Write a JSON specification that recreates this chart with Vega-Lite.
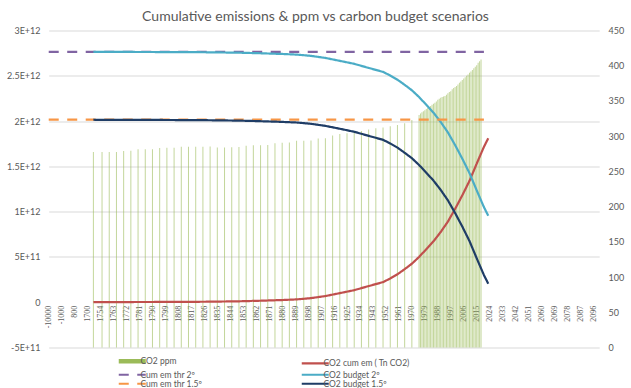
{
  "$schema": "https://vega.github.io/schema/vega-lite/v6.json",
  "width": 552,
  "height": 317,
  "autosize": "none",
  "padding": {"left": 48, "top": 30.5, "right": 31, "bottom": 40.5},
  "background": "white",
  "title": {"text": "Cumulative emissions & ppm vs carbon budget scenarios", "frame": "group", "anchor": "middle", "dx": -8.5, "dy": 18, "offset": 9.5, "baseline": "alphabetic", "font": "Lato", "fontSize": 14, "fontWeight": "normal", "color": "#595959"},
  "datasets": {
    "ppm": [
      {"year":1740,"ppm":277.4},{"year":1755,"ppm":277.4},{"year":1760,"ppm":277.4},{"year":1765,"ppm":277.6},{"year":1770,"ppm":279},{"year":1775,"ppm":279.2},{"year":1780,"ppm":281.3},{"year":1785,"ppm":281.5},{"year":1790,"ppm":281.6},{"year":1795,"ppm":283.2},{"year":1800,"ppm":283.4},{"year":1805,"ppm":283.5},{"year":1810,"ppm":284.8},{"year":1815,"ppm":285},{"year":1820,"ppm":285},{"year":1825,"ppm":285},{"year":1830,"ppm":285.2},{"year":1835,"ppm":284},{"year":1840,"ppm":284},{"year":1845,"ppm":284.2},{"year":1850,"ppm":284.5},{"year":1855,"ppm":286.5},{"year":1860,"ppm":287},{"year":1865,"ppm":287},{"year":1870,"ppm":287.5},{"year":1875,"ppm":290},{"year":1880,"ppm":290.6},{"year":1885,"ppm":291},{"year":1890,"ppm":293.5},{"year":1895,"ppm":293.6},{"year":1900,"ppm":294},{"year":1905,"ppm":296.8},{"year":1910,"ppm":297.2},{"year":1915,"ppm":301},{"year":1920,"ppm":303},{"year":1925,"ppm":304.3},{"year":1930,"ppm":305.7},{"year":1935,"ppm":307.5},{"year":1940,"ppm":309.4},{"year":1945,"ppm":311.3},{"year":1950,"ppm":312.2},{"year":1955,"ppm":314.1},{"year":1960,"ppm":316},{"year":1965,"ppm":318.4},{"year":1970,"ppm":323},{"year":1975,"ppm":330},
      {"year":1976,"ppm":332},{"year":1977,"ppm":333.8},{"year":1978,"ppm":335.4},{"year":1979,"ppm":336.8},{"year":1980,"ppm":338.7},{"year":1981,"ppm":340.1},{"year":1982,"ppm":341.4},{"year":1983,"ppm":343},{"year":1984,"ppm":344.6},{"year":1985,"ppm":346},{"year":1986,"ppm":347.4},{"year":1987,"ppm":349.2},{"year":1988,"ppm":351.6},{"year":1989,"ppm":353.1},{"year":1990,"ppm":354.4},{"year":1991,"ppm":355.6},{"year":1992,"ppm":356.4},{"year":1993,"ppm":357.1},{"year":1994,"ppm":358.8},{"year":1995,"ppm":360.8},{"year":1996,"ppm":362.6},{"year":1997,"ppm":363.7},{"year":1998,"ppm":366.7},{"year":1999,"ppm":368.4},{"year":2000,"ppm":369.7},{"year":2001,"ppm":371.3},{"year":2002,"ppm":373.5},{"year":2003,"ppm":375.8},{"year":2004,"ppm":377.5},{"year":2005,"ppm":379.8},{"year":2006,"ppm":381.9},{"year":2007,"ppm":383.8},{"year":2008,"ppm":385.6},{"year":2009,"ppm":387.4},{"year":2010,"ppm":389.9},{"year":2011,"ppm":391.7},{"year":2012,"ppm":393.9},{"year":2013,"ppm":396.5},{"year":2014,"ppm":398.6},{"year":2015,"ppm":400.8},{"year":2016,"ppm":404.2},{"year":2017,"ppm":406.5},{"year":2018,"ppm":408.7}
    ],
    "lines": [
      {"year":-10000,"series":"Cum em thr 2º","value":2.765e12},{"year":2020,"series":"Cum em thr 2º","value":2.765e12},
      {"year":-10000,"series":"Cum em thr 1.5º","value":2.015e12},{"year":2020,"series":"Cum em thr 1.5º","value":2.015e12},
      {"year":1740,"series":"CO2 cum em ( Tn CO2)","value":0},{"year":1750,"series":"CO2 cum em ( Tn CO2)","value":0.001e12},{"year":1775,"series":"CO2 cum em ( Tn CO2)","value":0.002e12},{"year":1800,"series":"CO2 cum em ( Tn CO2)","value":0.003e12},{"year":1825,"series":"CO2 cum em ( Tn CO2)","value":0.005e12},{"year":1850,"series":"CO2 cum em ( Tn CO2)","value":0.010e12},{"year":1860,"series":"CO2 cum em ( Tn CO2)","value":0.014e12},{"year":1870,"series":"CO2 cum em ( Tn CO2)","value":0.019e12},{"year":1880,"series":"CO2 cum em ( Tn CO2)","value":0.024e12},{"year":1890,"series":"CO2 cum em ( Tn CO2)","value":0.031e12},{"year":1900,"series":"CO2 cum em ( Tn CO2)","value":0.045e12},{"year":1910,"series":"CO2 cum em ( Tn CO2)","value":0.068e12},{"year":1920,"series":"CO2 cum em ( Tn CO2)","value":0.100e12},{"year":1930,"series":"CO2 cum em ( Tn CO2)","value":0.133e12},{"year":1940,"series":"CO2 cum em ( Tn CO2)","value":0.178e12},{"year":1950,"series":"CO2 cum em ( Tn CO2)","value":0.222e12},{"year":1955,"series":"CO2 cum em ( Tn CO2)","value":0.262e12},{"year":1960,"series":"CO2 cum em ( Tn CO2)","value":0.308e12},{"year":1965,"series":"CO2 cum em ( Tn CO2)","value":0.365e12},{"year":1970,"series":"CO2 cum em ( Tn CO2)","value":0.425e12},{"year":1975,"series":"CO2 cum em ( Tn CO2)","value":0.500e12},{"year":1980,"series":"CO2 cum em ( Tn CO2)","value":0.585e12},{"year":1985,"series":"CO2 cum em ( Tn CO2)","value":0.672e12},{"year":1990,"series":"CO2 cum em ( Tn CO2)","value":0.775e12},{"year":1995,"series":"CO2 cum em ( Tn CO2)","value":0.890e12},{"year":2000,"series":"CO2 cum em ( Tn CO2)","value":1.030e12},{"year":2005,"series":"CO2 cum em ( Tn CO2)","value":1.180e12},{"year":2010,"series":"CO2 cum em ( Tn CO2)","value":1.340e12},{"year":2015,"series":"CO2 cum em ( Tn CO2)","value":1.530e12},{"year":2020,"series":"CO2 cum em ( Tn CO2)","value":1.715e12},{"year":2023,"series":"CO2 cum em ( Tn CO2)","value":1.810e12},
      {"year":1740,"series":"CO2 budget 2º","value":2.765e12},{"year":1750,"series":"CO2 budget 2º","value":2.764e12},{"year":1775,"series":"CO2 budget 2º","value":2.763e12},{"year":1800,"series":"CO2 budget 2º","value":2.762e12},{"year":1825,"series":"CO2 budget 2º","value":2.760e12},{"year":1850,"series":"CO2 budget 2º","value":2.755e12},{"year":1860,"series":"CO2 budget 2º","value":2.751e12},{"year":1870,"series":"CO2 budget 2º","value":2.746e12},{"year":1880,"series":"CO2 budget 2º","value":2.741e12},{"year":1890,"series":"CO2 budget 2º","value":2.734e12},{"year":1900,"series":"CO2 budget 2º","value":2.720e12},{"year":1910,"series":"CO2 budget 2º","value":2.697e12},{"year":1920,"series":"CO2 budget 2º","value":2.665e12},{"year":1930,"series":"CO2 budget 2º","value":2.632e12},{"year":1940,"series":"CO2 budget 2º","value":2.587e12},{"year":1950,"series":"CO2 budget 2º","value":2.543e12},{"year":1955,"series":"CO2 budget 2º","value":2.503e12},{"year":1960,"series":"CO2 budget 2º","value":2.457e12},{"year":1965,"series":"CO2 budget 2º","value":2.400e12},{"year":1970,"series":"CO2 budget 2º","value":2.340e12},{"year":1975,"series":"CO2 budget 2º","value":2.265e12},{"year":1980,"series":"CO2 budget 2º","value":2.180e12},{"year":1985,"series":"CO2 budget 2º","value":2.093e12},{"year":1990,"series":"CO2 budget 2º","value":1.990e12},{"year":1995,"series":"CO2 budget 2º","value":1.875e12},{"year":2000,"series":"CO2 budget 2º","value":1.735e12},{"year":2005,"series":"CO2 budget 2º","value":1.585e12},{"year":2010,"series":"CO2 budget 2º","value":1.425e12},{"year":2015,"series":"CO2 budget 2º","value":1.235e12},{"year":2020,"series":"CO2 budget 2º","value":1.050e12},{"year":2023,"series":"CO2 budget 2º","value":0.955e12},
      {"year":1740,"series":"CO2 budget 1.5º","value":2.015e12},{"year":1750,"series":"CO2 budget 1.5º","value":2.014e12},{"year":1775,"series":"CO2 budget 1.5º","value":2.013e12},{"year":1800,"series":"CO2 budget 1.5º","value":2.012e12},{"year":1825,"series":"CO2 budget 1.5º","value":2.010e12},{"year":1850,"series":"CO2 budget 1.5º","value":2.005e12},{"year":1860,"series":"CO2 budget 1.5º","value":2.001e12},{"year":1870,"series":"CO2 budget 1.5º","value":1.996e12},{"year":1880,"series":"CO2 budget 1.5º","value":1.991e12},{"year":1890,"series":"CO2 budget 1.5º","value":1.984e12},{"year":1900,"series":"CO2 budget 1.5º","value":1.970e12},{"year":1910,"series":"CO2 budget 1.5º","value":1.947e12},{"year":1920,"series":"CO2 budget 1.5º","value":1.915e12},{"year":1930,"series":"CO2 budget 1.5º","value":1.882e12},{"year":1940,"series":"CO2 budget 1.5º","value":1.837e12},{"year":1950,"series":"CO2 budget 1.5º","value":1.793e12},{"year":1955,"series":"CO2 budget 1.5º","value":1.753e12},{"year":1960,"series":"CO2 budget 1.5º","value":1.707e12},{"year":1965,"series":"CO2 budget 1.5º","value":1.650e12},{"year":1970,"series":"CO2 budget 1.5º","value":1.590e12},{"year":1975,"series":"CO2 budget 1.5º","value":1.515e12},{"year":1980,"series":"CO2 budget 1.5º","value":1.430e12},{"year":1985,"series":"CO2 budget 1.5º","value":1.343e12},{"year":1990,"series":"CO2 budget 1.5º","value":1.240e12},{"year":1995,"series":"CO2 budget 1.5º","value":1.125e12},{"year":2000,"series":"CO2 budget 1.5º","value":0.985e12},{"year":2005,"series":"CO2 budget 1.5º","value":0.835e12},{"year":2010,"series":"CO2 budget 1.5º","value":0.675e12},{"year":2015,"series":"CO2 budget 1.5º","value":0.485e12},{"year":2020,"series":"CO2 budget 1.5º","value":0.300e12},{"year":2023,"series":"CO2 budget 1.5º","value":0.205e12}
    ]
  },
  "layer": [
    {
      "data": {"name": "ppm"},
      "mark": {"type": "bar", "width": 1, "color": "#9BBB59", "opacity": 0.6},
      "encoding": {
        "x": {"field": "year", "type": "quantitative",
          "scale": {"domain": [-10000, -1000, 800, 1700, 1750, 2100], "range": [0.72, 13.69, 26.66, 39.63, 46.83, 551.2], "nice": false, "zero": false, "padding": 0},
          "axis": {"orient": "bottom", "offset": -45.3, "values": [-10000,-1000,800,1700,1754,1763,1772,1781,1790,1799,1808,1817,1826,1835,1844,1853,1862,1871,1880,1889,1898,1907,1916,1925,1934,1943,1952,1961,1970,1979,1988,1997,2006,2015,2024,2033,2042,2051,2060,2069,2078,2087,2096],
            "labelExpr": "'' + datum.value", "labelAngle": -90, "grid": false, "domain": false, "ticks": false, "labelFont": "Liberation Serif", "labelFontSize": 8, "labelColor": "#595959", "labelPadding": 3, "title": null, "labelOverlap": false, "labelBound": false, "labelFlush": false}},
        "y": {"field": "ppm", "type": "quantitative",
          "scale": {"domain": [0, 450], "nice": false, "zero": true},
          "axis": {"orient": "right", "values": [0,50,100,150,200,250,300,350,400,450], "grid": false, "domain": false, "ticks": false, "labelPadding": 8, "title": null, "labelFont": "Lato", "labelFontSize": 9, "labelColor": "#595959", "labelExpr": "'' + datum.value"}}
      }
    },
    {
      "data": {"name": "lines"},
      "encoding": {
        "x": {"field": "year", "type": "quantitative",
          "scale": {"domain": [-10000, -1000, 800, 1700, 1750, 2100], "range": [0.72, 13.69, 26.66, 39.63, 46.83, 551.2], "nice": false, "zero": false, "padding": 0},
          "axis": {"orient": "bottom", "offset": -45.3, "values": [-10000,-1000,800,1700,1754,1763,1772,1781,1790,1799,1808,1817,1826,1835,1844,1853,1862,1871,1880,1889,1898,1907,1916,1925,1934,1943,1952,1961,1970,1979,1988,1997,2006,2015,2024,2033,2042,2051,2060,2069,2078,2087,2096],
            "labelExpr": "'' + datum.value", "labelAngle": -90, "grid": false, "domain": false, "ticks": false, "labelFont": "Liberation Serif", "labelFontSize": 8, "labelColor": "#595959", "labelPadding": 3, "title": null, "labelOverlap": false, "labelBound": false, "labelFlush": false}},
        "y": {"field": "value", "type": "quantitative",
          "scale": {"domain": [-5e11, 3e12], "nice": false, "zero": false},
          "axis": {"orient": "left", "values": [-5e11, 0, 5e11, 1e12, 1.5e12, 2e12, 2.5e12, 3e12], "grid": true, "gridColor": "#D9D9D9", "gridWidth": 1,
            "gridOpacity": {"condition": {"test": "datum.value === 0", "value": 0}, "value": 1},
            "domain": false, "ticks": false, "labelPadding": 8, "title": null, "labelFont": "Lato", "labelFontSize": 9, "labelColor": "#595959",
            "labelExpr": "datum.value === 0 ? '0' : (datum.value < 0 ? '-' : '') + upper(format(abs(datum.value), '.2~e'))"}},
        "color": {"field": "series", "type": "nominal",
          "scale": {"domain": ["CO2 ppm", "CO2 cum em ( Tn CO2)", "Cum em thr 2º", "CO2 budget 2º", "Cum em thr 1.5º", "CO2 budget 1.5º"],
                    "range": ["#9BBB59", "#C0504D", "#8064A2", "#4BACC6", "#F79646", "#1F3D66"]},
          "legend": {"orient": "none", "legendX": 80, "legendY": 326, "direction": "horizontal", "columns": 2, "columnPadding": 94, "rowPadding": -8.5, "padding": 0,
            "symbolType": "stroke", "symbolSize": 729, "symbolStrokeWidth": 2.2, "labelFont": "Lato", "labelFontSize": 8.5, "labelColor": "#595959", "labelOffset": 4, "title": null,
            "encode": {"symbols": {"update": {"strokeWidth": {"signal": "datum.value === 'CO2 ppm' ? 4.5 : 2.2"}}}}}},
        "strokeDash": {"field": "series", "type": "nominal",
          "scale": {"domain": ["CO2 ppm", "CO2 cum em ( Tn CO2)", "Cum em thr 2º", "CO2 budget 2º", "Cum em thr 1.5º", "CO2 budget 1.5º"],
                    "range": [[1, 0], [1, 0], [10, 8.5], [1, 0], [10, 8.5], [1, 0]]},
          "legend": {"orient": "none", "legendX": 80, "legendY": 326, "direction": "horizontal", "columns": 2, "columnPadding": 94, "rowPadding": -8.5, "padding": 0,
            "symbolType": "stroke", "symbolSize": 729, "symbolStrokeWidth": 2.2, "labelFont": "Lato", "labelFontSize": 8.5, "labelColor": "#595959", "labelOffset": 4, "title": null,
            "encode": {"symbols": {"update": {"strokeWidth": {"signal": "datum.value === 'CO2 ppm' ? 4.5 : 2.2"}}}}}}
      },
      "layer": [
        {"transform": [{"filter": "datum.series === 'CO2 cum em ( Tn CO2)'"}], "mark": {"type": "line", "strokeWidth": 2.2}},
        {"transform": [{"filter": "datum.series === 'Cum em thr 2º'"}], "mark": {"type": "line", "strokeWidth": 2.2}},
        {"transform": [{"filter": "datum.series === 'CO2 budget 2º'"}], "mark": {"type": "line", "strokeWidth": 2.2}},
        {"transform": [{"filter": "datum.series === 'Cum em thr 1.5º'"}], "mark": {"type": "line", "strokeWidth": 2.2}},
        {"transform": [{"filter": "datum.series === 'CO2 budget 1.5º'"}], "mark": {"type": "line", "strokeWidth": 2.2}}
      ]
    }
  ],
  "resolve": {"scale": {"y": "independent"}},
  "config": {"view": {"stroke": null}}
}
